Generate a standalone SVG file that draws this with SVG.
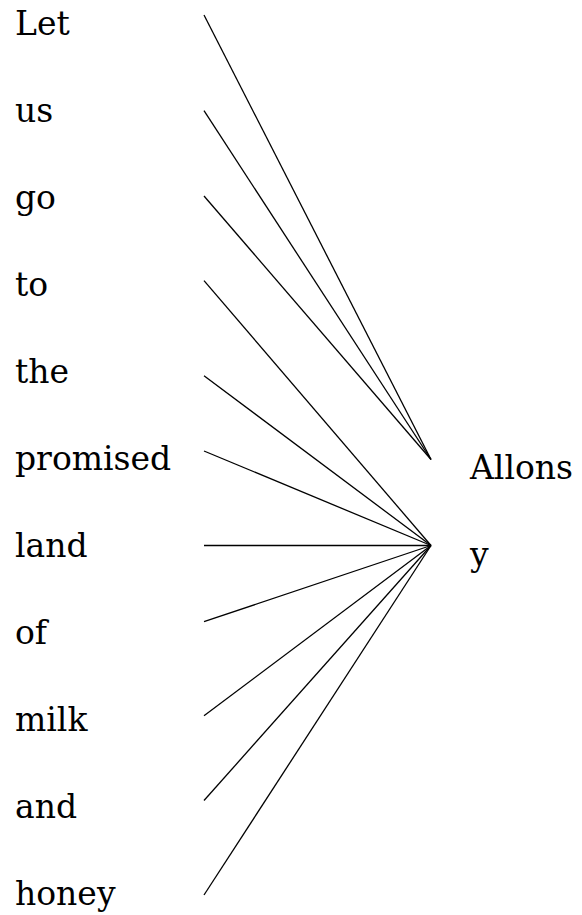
<svg xmlns="http://www.w3.org/2000/svg" width="582" height="915" viewBox="0 0 582 915">
<style>
.t{font-family:'DejaVu Serif',serif;font-size:33px;fill:#000}
.e{stroke:#000;stroke-width:1.3;fill:none}
</style>
<rect width="582" height="915" fill="#fff"/>
<g id="edges">
<line class="e" x1="204" y1="15" x2="431" y2="459.5"/>
<line class="e" x1="204" y1="110.7" x2="431" y2="459.5"/>
<line class="e" x1="204" y1="196" x2="431" y2="459.5"/>
<line class="e" x1="204" y1="280.7" x2="431" y2="545.5"/>
<line class="e" x1="204" y1="375.7" x2="431" y2="545.5"/>
<line class="e" x1="204" y1="451" x2="431" y2="545.5"/>
<line class="e" x1="204" y1="545.5" x2="431" y2="545.5"/>
<line class="e" x1="204" y1="621.7" x2="431" y2="545.5"/>
<line class="e" x1="204" y1="715.7" x2="431" y2="545.5"/>
<line class="e" x1="204" y1="800.5" x2="431" y2="545.5"/>
<line class="e" x1="204" y1="895" x2="431" y2="545.5"/>
</g>
<g class="t">
<g id="n-let"><text x="15" y="35">Let</text></g>
<g id="n-us"><text x="15" y="122">us</text></g>
<g id="n-go"><text x="15" y="209">go</text></g>
<g id="n-to"><text x="15" y="296">to</text></g>
<g id="n-the"><text x="15" y="383">the</text></g>
<g id="n-promised"><text x="15" y="470">promised</text></g>
<g id="n-land"><text x="15" y="557">land</text></g>
<g id="n-of"><text x="15" y="644">of</text></g>
<g id="n-milk"><text x="15" y="731">milk</text></g>
<g id="n-and"><text x="15" y="818">and</text></g>
<g id="n-honey"><text x="15" y="905">honey</text></g>
<g id="n-allons"><text x="470" y="479">Allons</text></g>
<g id="n-y"><text x="470" y="566">y</text></g>
</g>
</svg>
